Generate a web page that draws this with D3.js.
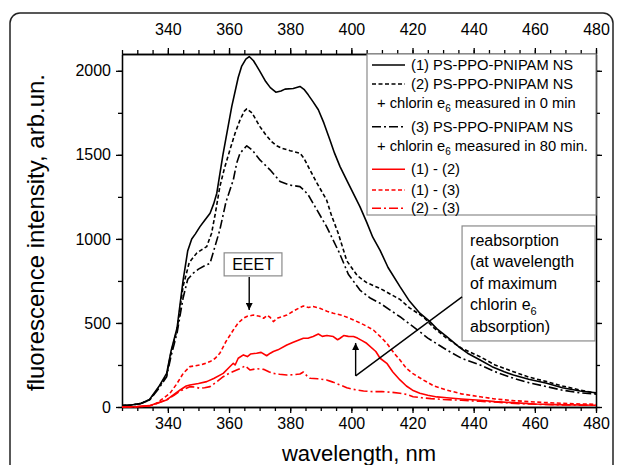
<!DOCTYPE html>
<html>
<head>
<meta charset="utf-8">
<script src="https://cdn.jsdelivr.net/npm/d3@7"></script>
<style>
  body { margin: 0; background: #fff; }
  svg { display: block; font-family: "Liberation Sans", Arial, sans-serif; }
</style>
</head>
<body>
<svg id="chart" width="621" height="465"></svg>
<script>
// data: [wavelength nm, intensity arb.un.]
const ns1 = [[325,8],[328,12],[331,20],[334,45],[337,120],[339.6,200],[341,330],[343,470],[345,756],[346.5,930],[347.8,1000],[349,1030],[350.5,1073],[352,1110],[353.8,1153],[355,1210],[356,1272],[358,1500],[360.9,1788],[363,1960],[364.1,2026],[365.5,2070],[366.6,2085],[368,2060],[370,2000],[372,1936],[373.5,1900],[375.3,1873],[377,1880],[378.3,1891],[381,1895],[383.2,1907],[384.5,1890],[385.9,1857],[387.5,1815],[389.2,1768],[391,1690],[393,1589],[394.5,1510],[396.3,1430],[399,1330],[402.8,1192],[405,1100],[407,1010],[409.4,932],[412,830],[415.9,716],[419,630],[422.4,558],[425.7,508],[428,465],[431.2,418],[435,360],[438,320],[442.1,280],[446,240],[450,210],[453,190],[458,165],[463.9,141],[469,115],[474.8,95],[480,85]];
const ns2 = [[325,8],[328,12],[331,20],[334,42],[337,115],[339.6,190],[341,320],[343,460],[345,720],[347,860],[349.4,915],[351,935],[352.7,954],[354.3,1034],[355.5,1150],[357,1311],[358.5,1420],[360.3,1530],[362,1630],[363.6,1708],[365,1760],[365.8,1774],[367.5,1750],[370.1,1668],[372,1620],[373.9,1579],[375.5,1555],[377.2,1540],[380,1525],[383.2,1510],[384.5,1480],[385.9,1430],[388.5,1340],[391.9,1232],[393.5,1140],[395.7,1034],[398.5,870],[402,780],[405,740],[409.4,705],[415.9,640],[419,590],[423.5,537],[427,470],[431.2,409],[436,350],[442.1,299],[447,250],[453,210],[458,178],[463.9,151],[469,125],[474.8,101],[480,82]];
const ns3 = [[325,8],[328,12],[331,20],[334,40],[337,110],[339.6,180],[341,300],[343,440],[345,650],[346.5,760],[348.3,796],[350,820],[352,840],[353.8,855],[355,930],[357,1054],[359,1220],[361.4,1351],[362.5,1450],[363.6,1510],[365.8,1554],[367.5,1530],[370.1,1470],[373.4,1411],[376.7,1341],[380,1320],[383.2,1311],[384.5,1290],[385.9,1262],[388.5,1180],[391.9,1073],[396,920],[399,790],[402.8,696],[406,650],[409.4,617],[415.9,537],[420.2,478],[425,410],[431.2,339],[436,290],[442.1,250],[447,210],[453,171],[458,145],[463.9,121],[469,100],[474.8,84],[480,76]];
const diff12 = [[325,0],[330,2],[334,8],[336.3,22],[339.6,42],[342,75],[344,101],[346,125],[347.2,131],[350,140],[352.7,151],[355,170],[358.1,200],[360,235],[361.4,260],[362,250],[363,290],[364.7,310],[366,300],[367,315],[369,320],[370.5,325],[372.3,305],[373.5,320],[374.5,330],[376,340],[378.9,369],[381,385],[384.3,409],[386,410],[387.5,420],[389.2,434],[390.5,420],[392,425],[394.1,419],[395.5,400],[396.3,409],[397.5,425],[399,420],[400.7,419],[402,410],[403.5,395],[405,379],[408,330],[409.4,290],[411.6,260],[413.5,210],[415.9,161],[418,125],[420,100],[422.4,82],[425,70],[428,60],[431.2,55],[436,48],[442.1,40],[447,32],[453,26],[460,18],[467,14],[474.8,12],[480,10]];
const diff13 = [[325,0],[330,2],[334,6],[336.3,22],[338,45],[340.7,82],[343,140],[345,200],[347.2,240],[349,245],[350.5,250],[352,258],[353.8,270],[355.5,290],[357,320],[359,390],[361.4,458],[363,500],[364.7,528],[366,540],[368,547],[370,540],[371.3,528],[372.5,545],[373.4,534],[374.5,508],[376,530],[378.9,547],[381,570],[383,590],[384.3,601],[386,592],[387.5,598],[389.7,587],[392,570],[394.1,558],[397,545],[400.7,518],[404,490],[407.2,458],[409.4,420],[411.6,379],[414,320],[415.9,280],[418,230],[420,200],[423.5,161],[427,125],[431.2,101],[436,78],[442.1,61],[447,48],[453,38],[458,32],[463.9,26],[469,22],[474.8,18],[480,16]];
const diff23 = [[325,0],[330,2],[334,6],[336,18],[339.6,42],[342,70],[344,95],[347.2,121],[349,118],[350.5,111],[352,115],[353.8,121],[356,150],[358.1,180],[360,200],[362.5,220],[364,232],[365.3,245],[366.9,220],[369,228],[371.3,224],[373,210],[374.5,200],[376.5,195],[378.9,190],[381,192],[383.2,196],[384.3,208],[385.5,185],[386.5,171],[389,168],[391.9,161],[394,148],[396.3,131],[398.5,115],[400.7,105],[404,95],[407.2,91],[410,92],[413,88],[415.9,82],[418,75],[420.2,61],[423,55],[426,50],[430,45],[436,40],[442.1,34],[448,28],[455,20],[462,15],[470,12],[480,10]];

const xTicksMajor = [340, 360, 380, 400, 420, 440, 460, 480];
const yTicksMajor = [0, 500, 1000, 1500, 2000];

const series = [
  { name: "(1) PS-PPO-PNIPAM NS", data: ns1, color: "#000", dash: null },
  { name: "(2) PS-PPO-PNIPAM NS", sub: "0 min", data: ns2, color: "#000", dash: "4,2.5" },
  { name: "(3) PS-PPO-PNIPAM NS", sub: "80 min.", data: ns3, color: "#000", dash: "9,3,2,3" },
  { name: "(1) - (2)", data: diff12, color: "#ff0000", dash: null },
  { name: "(1) - (3)", data: diff13, color: "#ff0000", dash: "4,2.5" },
  { name: "(2) - (3)", data: diff23, color: "#ff0000", dash: "9,3,2,3" }
];

const svg = d3.select("#chart");
const L = 122, R = 596, T = 54, B = 407;

const x = d3.scaleLinear().domain([325, 480]).range([L, R]);
const y = d3.scaleLinear().domain([0, 2100]).range([B, T]);

// outer rounded frame
svg.append("rect")
  .attr("x", 10).attr("y", 13)
  .attr("width", 603).attr("height", 480)
  .attr("rx", 10)
  .attr("fill", "none")
  .attr("stroke", "#222")
  .attr("stroke-width", 1.5);

// axes
function styleAxis(g) {
  g.attr("font-family", null).attr("font-size", null);
  g.selectAll("path, line").attr("stroke", "#000").attr("stroke-width", 1.3);
  g.selectAll("text").style("font-size", "16px").attr("fill", "#000");
}
const xMinor = d3.range(325, 481, 5);
const yMinor = d3.range(0, 2001, 250);
const fmt = d3.format("d");

svg.append("g").attr("transform", `translate(0,${B})`)
  .call(d3.axisBottom(x).tickValues(xMinor).tickSize(4).tickSizeOuter(0).tickFormat(""))
  .call(styleAxis);
svg.append("g").attr("transform", `translate(0,${B})`)
  .call(d3.axisBottom(x).tickValues(xTicksMajor).tickSize(6).tickSizeOuter(0).tickPadding(5).tickFormat(fmt))
  .call(styleAxis);
svg.append("g").attr("transform", `translate(0,${T})`)
  .call(d3.axisTop(x).tickValues(xMinor).tickSize(4).tickSizeOuter(0).tickFormat(""))
  .call(styleAxis);
svg.append("g").attr("transform", `translate(0,${T})`)
  .call(d3.axisTop(x).tickValues(xTicksMajor).tickSize(6).tickSizeOuter(0).tickPadding(13).tickFormat(fmt))
  .call(styleAxis);
svg.append("g").attr("transform", `translate(${L},0)`)
  .call(d3.axisLeft(y).tickValues(yMinor).tickSize(4).tickSizeOuter(0).tickFormat(""))
  .call(styleAxis);
svg.append("g").attr("transform", `translate(${L},0)`)
  .call(d3.axisLeft(y).tickValues(yTicksMajor).tickSize(6).tickSizeOuter(0).tickPadding(5).tickFormat(fmt))
  .call(styleAxis);
svg.append("g").attr("transform", `translate(${R},0)`)
  .call(d3.axisRight(y).tickValues(yMinor).tickSize(4).tickSizeOuter(0).tickFormat(""))
  .call(styleAxis);
svg.append("g").attr("transform", `translate(${R},0)`)
  .call(d3.axisRight(y).tickValues(yTicksMajor).tickSize(6).tickSizeOuter(0).tickFormat(""))
  .call(styleAxis);

// axis titles
svg.append("text")
  .attr("transform", `translate(44,${(T + B) / 2 + 2}) rotate(-90)`)
  .attr("text-anchor", "middle")
  .style("font-size", "24px")
  .text("fluorescence intensity, arb.un.");
svg.append("text")
  .attr("x", (L + R) / 2).attr("y", 461)
  .attr("text-anchor", "middle")
  .style("font-size", "22px")
  .text("wavelength, nm");

// curves
const line = d3.line().x(d => x(d[0])).y(d => y(d[1]));
svg.append("g")
  .selectAll("path")
  .data(series)
  .join("path")
  .attr("d", d => line(d.data))
  .attr("fill", "none")
  .attr("stroke", d => d.color)
  .attr("stroke-width", 1.6)
  .attr("stroke-dasharray", d => d.dash)
  .attr("stroke-linejoin", "round");

// legend
const lg = svg.append("g");
lg.append("rect")
  .attr("x", 367).attr("y", T)
  .attr("width", R - 367).attr("height", 161)
  .attr("fill", "#fff")
  .attr("stroke", "#8a8a8a")
  .attr("stroke-width", 1.2);
const rows = [
  { s: series[0], y: 65 },
  { s: series[1], y: 84, sub: 103 },
  { s: series[2], y: 126.7, sub: 146 },
  { s: series[3], y: 169.3 },
  { s: series[4], y: 190 },
  { s: series[5], y: 208.3 }
];
rows.forEach(r => {
  lg.append("line")
    .attr("x1", 372).attr("x2", 405)
    .attr("y1", r.y).attr("y2", r.y)
    .attr("stroke", r.s.color)
    .attr("stroke-width", 1.6)
    .attr("stroke-dasharray", r.s.dash);
  lg.append("text")
    .attr("x", 411).attr("y", r.y + 5)
    .style("font-size", "14.7px")
    .text(r.s.name);
  if (r.sub) {
    const t = lg.append("text")
      .attr("x", 377).attr("y", r.sub + 5)
      .style("font-size", "14.7px");
    t.append("tspan").text("+ chlorin e");
    t.append("tspan").attr("dy", 4).style("font-size", "10px").text("6");
    t.append("tspan").attr("dy", -4).text(" measured in " + r.s.sub);
  }
});

// arrowhead
svg.append("defs").append("marker")
  .attr("id", "arr")
  .attr("viewBox", "0 0 10 10")
  .attr("refX", 10).attr("refY", 5)
  .attr("markerWidth", 8).attr("markerHeight", 7)
  .attr("markerUnits", "userSpaceOnUse")
  .attr("orient", "auto")
  .append("path")
  .attr("d", "M0,0 L10,5 L0,10 Z")
  .attr("fill", "#000");

// EEET annotation
const eeet = svg.append("g");
eeet.append("rect")
  .attr("x", x(358.4)).attr("y", y(917))
  .attr("width", x(377.3) - x(358.4)).attr("height", y(780) - y(917))
  .attr("fill", "#fff").attr("stroke", "#8a8a8a").attr("stroke-width", 1.2);
eeet.append("text")
  .attr("x", (x(358.4) + x(377.3)) / 2).attr("y", y(780) - 6)
  .attr("text-anchor", "middle")
  .style("font-size", "16px")
  .text("EEET");
eeet.append("line")
  .attr("x1", x(366.6)).attr("x2", x(366.6))
  .attr("y1", y(774)).attr("y2", y(577))
  .attr("stroke", "#000").attr("stroke-width", 1.4)
  .attr("marker-end", "url(#arr)");

// reabsorption annotation
const re = svg.append("g");
re.append("rect")
  .attr("x", x(436.2)).attr("y", y(1077))
  .attr("width", x(479.7) - x(436.2)).attr("height", y(393) - y(1077))
  .attr("fill", "#fff").attr("stroke", "#8a8a8a").attr("stroke-width", 1.2);
const reLines = ["reabsorption", "(at wavelength", "of maximum", "chlorin e", "absorption)"];
reLines.forEach((s, i) => {
  const t = re.append("text")
    .attr("x", x(436.2) + 8).attr("y", y(1077) + 20 + i * 21.5)
    .style("font-size", "16px")
    .text(s);
  if (i === 3) t.append("tspan").attr("dy", 5).style("font-size", "11px").text("6");
});
re.append("line")
  .attr("x1", x(401.4)).attr("x2", x(401.4))
  .attr("y1", y(185)).attr("y2", y(381))
  .attr("stroke", "#000").attr("stroke-width", 1.4)
  .attr("marker-end", "url(#arr)");
re.append("line")
  .attr("x1", x(401.4)).attr("y1", y(185))
  .attr("x2", x(436.2)).attr("y2", y(655))
  .attr("stroke", "#000").attr("stroke-width", 1.4);
</script>
</body>
</html>
